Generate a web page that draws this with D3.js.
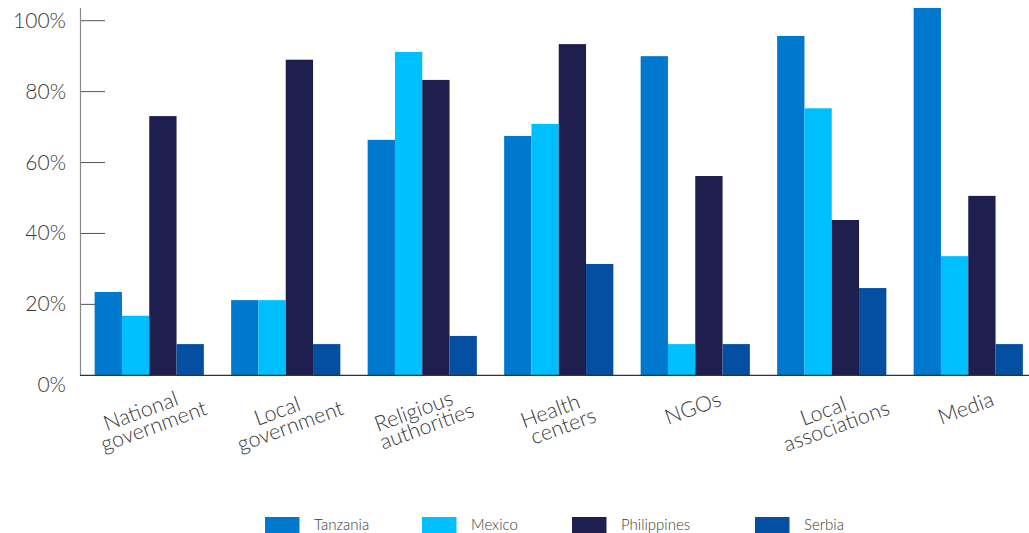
<!DOCTYPE html>
<html>
<head>
<meta charset="utf-8">
<script src="https://cdn.jsdelivr.net/npm/d3@7/dist/d3.min.js"></script>
<style>
  html, body { margin: 0; padding: 0; background: #fff; }
  svg { display: block; font-family: Lato, "Open Sans", sans-serif; }
</style>
</head>
<body>
<svg id="chart" width="1029" height="533"></svg>
<script>
// ---- Data ----
const categories = ["National government", "Local government", "Religious authorities", "Health centers", "NGOs", "Local associations", "Media"];
const seriesNames = ["Tanzania", "Mexico", "Philippines", "Serbia"];
const tanzania    = [23.5, 21.2, 66.4, 67.5, 90.0, 95.7, 103.6];
const mexico      = [16.8, 21.2, 91.2, 70.9, 8.8, 75.3, 33.6];
const philippines = [73.1, 89.0, 83.3, 93.4, 56.2, 43.8, 50.6];
const serbia      = [8.8, 8.8, 11.1, 31.4, 8.8, 24.6, 8.8];
const yTicks = [0, 20, 40, 60, 80, 100];
const tickLabels = ["0%", "20%", "40%", "60%", "80%", "100%"];

const seriesValues = [tanzania, mexico, philippines, serbia];
const colors = ["#0078CE", "#00BFFF", "#1F1F4F", "#044FA1"];

// ---- Layout ----
const svg = d3.select("#chart");
const x0 = d3.scaleBand().domain(categories).range([81, 1036.5]).paddingInner(0.2).paddingOuter(0.1);
const x1 = d3.scaleBand().domain(seriesNames).range([0, x0.bandwidth()]);
const y = d3.scaleLinear().domain([0, 100]).range([375.3, 20.7]);
const color = d3.scaleOrdinal().domain(seriesNames).range(colors);

// Y axis line
svg.append("line")
  .attr("x1", 80.5).attr("x2", 80.5).attr("y1", 8).attr("y2", 375.3)
  .attr("stroke", "#8a8a8a").attr("stroke-width", 1.2);

// tick marks (behind bars)
svg.append("g").selectAll("line").data(yTicks.filter(d => d > 0)).join("line")
  .attr("x1", 81).attr("x2", 105)
  .attr("y1", d => y(d)).attr("y2", d => y(d))
  .attr("stroke", "#555").attr("stroke-width", 1);

// tick labels
svg.append("g").selectAll("text").data(yTicks).join("text")
  .attr("x", 66)
  .attr("y", d => d === 0 ? y(d) + 17 : y(d) + 7)
  .attr("text-anchor", "end")
  .attr("font-size", 21)
  .attr("font-weight", 300)
  .attr("fill", "#3a3a3a")
  .text((d, i) => tickLabels[i]);

// Bars
const rows = categories.map((c, i) => ({ cat: c, vals: seriesNames.map((s, j) => ({ s, v: seriesValues[j][i] })) }));
const groups = svg.append("g").selectAll("g").data(rows).join("g")
  .attr("transform", d => `translate(${x0(d.cat)},0)`);
groups.selectAll("rect").data(d => d.vals).join("rect")
  .attr("x", d => x1(d.s))
  .attr("width", x1.bandwidth())
  .attr("y", d => y(d.v))
  .attr("height", d => y(0) - y(d.v))
  .attr("fill", d => color(d.s));

// Baseline
svg.append("line")
  .attr("x1", 80).attr("x2", 1029).attr("y1", 375.3).attr("y2", 375.3)
  .attr("stroke", "#333").attr("stroke-width", 1.3);

// X labels
const xl = svg.append("g").attr("font-size", 21.5).attr("font-weight", 300).attr("fill", "#3a3a3a").attr("text-anchor", "middle");
categories.forEach(c => {
  const cx = x0(c) + x0.bandwidth() / 2;
  const parts = c.split(" ");
  if (parts.length === 1) {
    xl.append("text").attr("transform", `translate(${cx},415) rotate(-20)`).text(parts[0]);
  } else {
    xl.append("text").attr("transform", `translate(${cx - 6},418) rotate(-20)`).text(parts[0]);
    xl.append("text").attr("transform", `translate(${cx + 7},433) rotate(-20)`).text(parts.slice(1).join(" "));
  }
});

// Legend
const legendX = [265, 422, 572, 755];
const lg = svg.append("g").selectAll("g").data(seriesNames).join("g")
  .attr("transform", (d, i) => `translate(${legendX[i]},517)`);
lg.append("rect").attr("width", 34.5).attr("height", 18).attr("fill", d => color(d));
lg.append("text").attr("x", 49).attr("y", 13).attr("font-size", 15).attr("font-weight", 300).attr("fill", "#3a3a3a").text(d => d);
</script>
</body>
</html>
